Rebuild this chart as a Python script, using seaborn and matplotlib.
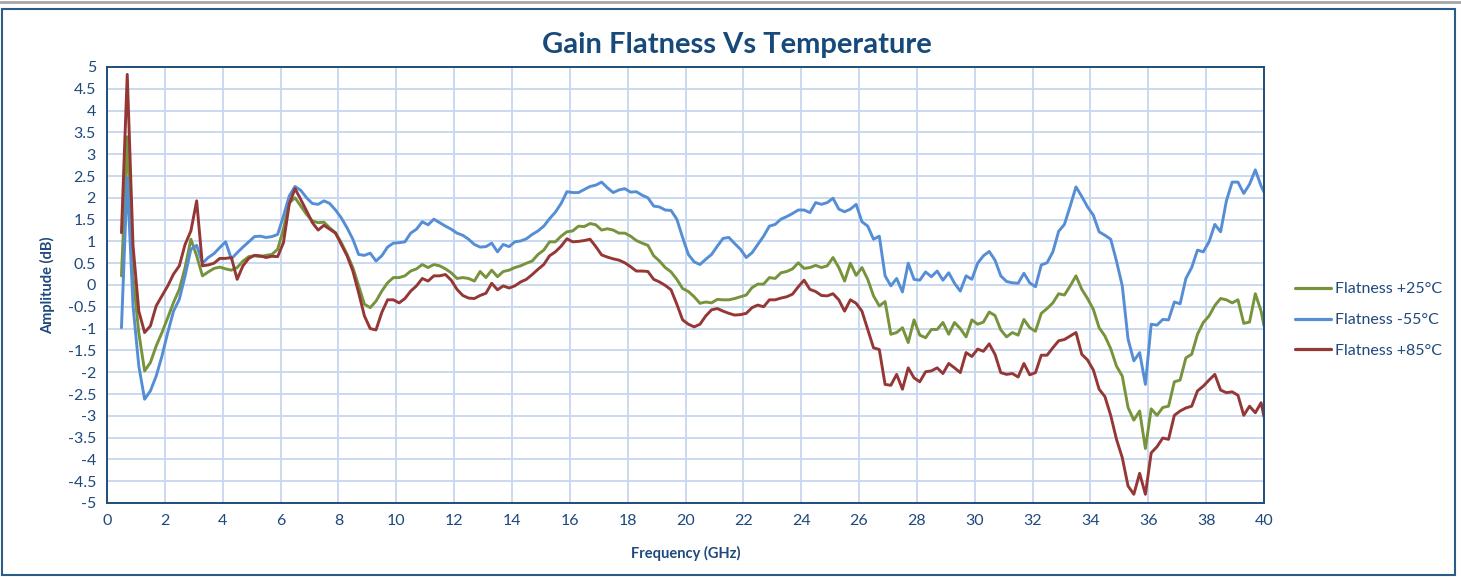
import numpy as np
import pandas as pd
import matplotlib
matplotlib.use("Agg")
import matplotlib.pyplot as plt
import seaborn as sns
from matplotlib.lines import Line2D
from matplotlib.patches import Rectangle

# Frequency sweep in GHz: 0.2 GHz steps from 0.5, plus the 40 GHz end point
freq_ghz = [round(0.5 + 0.2 * i, 1) for i in range(198)] + [40.0]

# Flatness +25°C (dB)
flat_p25 = [
    0.21, 3.4, 0.2, -1.1, -1.97, -1.78, -1.4, -1.09, -0.75, -0.4,
    -0.1, 0.4, 1.05, 0.67, 0.21, 0.3, 0.38, 0.41, 0.37, 0.34,
    0.4, 0.55, 0.65, 0.67, 0.65, 0.68, 0.7, 0.82, 1.28, 1.89,
    2.0, 1.81, 1.62, 1.47, 1.43, 1.44, 1.31, 1.2, 0.97, 0.7,
    0.4, -0.02, -0.44, -0.52, -0.37, -0.14, 0.05, 0.17, 0.17,
    0.21, 0.32, 0.37, 0.47, 0.4, 0.47, 0.44, 0.37, 0.28, 0.15,
    0.17, 0.15, 0.09, 0.31, 0.17, 0.34, 0.19, 0.31, 0.34, 0.4,
    0.44, 0.5, 0.55, 0.7, 0.8, 0.99, 0.99, 1.12, 1.22, 1.24,
    1.35, 1.34, 1.41, 1.38, 1.26, 1.29, 1.26, 1.19, 1.19, 1.12,
    1.02, 0.96, 0.91, 0.67, 0.55, 0.4, 0.3, 0.13, -0.08, -0.15,
    -0.27, -0.42, -0.39, -0.41, -0.33, -0.34, -0.34, -0.31, -0.27, -0.23,
    -0.06, 0.02, 0.02, 0.17, 0.15, 0.28, 0.31, 0.37, 0.51, 0.38,
    0.4, 0.45, 0.4, 0.44, 0.63, 0.4, 0.09, 0.5, 0.22, 0.4,
    0.13, -0.25, -0.48, -0.38, -1.13, -1.09, -0.98, -1.32, -0.8, -1.15,
    -1.21, -1.02, -1.02, -0.86, -1.13, -0.86, -1.0, -1.19, -0.8, -0.9,
    -0.85, -0.62, -0.7, -1.03, -1.19, -1.09, -1.15, -0.79, -0.98, -1.06,
    -0.65, -0.54, -0.41, -0.2, -0.23, -0.02, 0.21, -0.1, -0.31, -0.56,
    -0.98, -1.17, -1.46, -1.86, -2.09, -2.81, -3.1, -2.89, -3.75, -2.84,
    -2.99, -2.81, -2.78, -2.22, -2.18, -1.67, -1.59, -1.13, -0.86, -0.71,
    -0.47, -0.31, -0.34, -0.41, -0.34, -0.88, -0.85, -0.2, -0.6, -0.94,
]

# Flatness -55°C (dB)
flat_m55 = [
    -0.98, 2.46, -0.48, -1.86, -2.62, -2.43, -2.09, -1.63, -1.09, -0.6,
    -0.33, 0.21, 0.82, 0.91, 0.5, 0.63, 0.72, 0.86, 0.99, 0.6,
    0.74, 0.87, 0.99, 1.11, 1.12, 1.09, 1.11, 1.16, 1.58, 2.04,
    2.26, 2.17, 2.0, 1.87, 1.85, 1.93, 1.87, 1.72, 1.54, 1.31,
    1.05, 0.7, 0.68, 0.73, 0.55, 0.67, 0.87, 0.96, 0.97,
    0.99, 1.19, 1.28, 1.45, 1.38, 1.51, 1.43, 1.35, 1.28, 1.19,
    1.14, 1.05, 0.93, 0.87, 0.88, 0.96, 0.76, 0.93, 0.88, 0.99,
    1.01, 1.06, 1.16, 1.24, 1.35, 1.52, 1.67, 1.87, 2.14, 2.12,
    2.12, 2.19, 2.26, 2.29, 2.36, 2.23, 2.12, 2.18, 2.21, 2.13,
    2.14, 2.06, 2.0, 1.81, 1.79, 1.72, 1.71, 1.51, 1.09, 0.7,
    0.53, 0.47, 0.59, 0.7, 0.89, 1.07, 1.09, 0.95, 0.82, 0.63,
    0.74, 0.93, 1.12, 1.35, 1.39, 1.51, 1.57, 1.64, 1.72, 1.72,
    1.66, 1.89, 1.85, 1.89, 1.99, 1.74, 1.68, 1.74, 1.85, 1.45,
    1.35, 1.05, 1.12, 0.21, -0.02, 0.15, -0.16, 0.5, 0.13, 0.11,
    0.3, 0.19, 0.32, 0.11, 0.28, 0.04, -0.14, 0.21, 0.13, 0.5,
    0.67, 0.77, 0.57, 0.21, 0.08, 0.05, 0.04, 0.27, 0.05, -0.04,
    0.46, 0.51, 0.76, 1.23, 1.39, 1.81, 2.25, 2.03, 1.79, 1.6,
    1.22, 1.14, 1.05, 0.55, -0.02, -1.24, -1.74, -1.55, -2.28, -0.9,
    -0.92, -0.79, -0.8, -0.39, -0.43, 0.15, 0.4, 0.8, 0.76, 0.99,
    1.39, 1.22, 1.93, 2.36, 2.36, 2.1, 2.31, 2.64, 2.27, 2.13,
]

# Flatness +85°C (dB)
flat_p85 = [
    1.2, 4.83, 0.9, -0.6, -1.09, -0.94, -0.48, -0.25, -0.02, 0.25,
    0.44, 0.93, 1.24, 1.93, 0.44, 0.46, 0.5, 0.61, 0.61, 0.63,
    0.13, 0.44, 0.61, 0.68, 0.67, 0.63, 0.66, 0.65, 0.97, 1.85,
    2.21, 1.96, 1.7, 1.43, 1.26, 1.37, 1.28, 1.19, 0.93, 0.67,
    0.32, -0.18, -0.71, -1.0, -1.03, -0.63, -0.34, -0.34, -0.41,
    -0.31, -0.14, -0.02, 0.15, 0.09, 0.21, 0.21, 0.24, 0.11, -0.1,
    -0.24, -0.3, -0.31, -0.24, -0.19, 0.04, -0.11, -0.02, -0.07, -0.02,
    0.07, 0.13, 0.24, 0.36, 0.47, 0.67, 0.76, 0.89, 1.06, 0.99,
    1.0, 1.02, 1.05, 0.88, 0.69, 0.64, 0.6, 0.57, 0.51, 0.42,
    0.32, 0.32, 0.31, 0.13, 0.07, -0.01, -0.11, -0.44, -0.8, -0.9,
    -0.96, -0.9, -0.71, -0.57, -0.54, -0.6, -0.65, -0.69, -0.68, -0.65,
    -0.52, -0.46, -0.5, -0.34, -0.34, -0.3, -0.27, -0.21, -0.04, 0.11,
    -0.1, -0.15, -0.24, -0.25, -0.2, -0.34, -0.6, -0.34, -0.42, -0.6,
    -1.02, -1.44, -1.48, -2.28, -2.3, -2.05, -2.39, -1.9, -2.13, -2.22,
    -1.99, -1.97, -1.9, -2.03, -1.8, -1.9, -2.01, -1.55, -1.64, -1.47,
    -1.52, -1.35, -1.59, -2.01, -2.05, -2.03, -2.11, -1.8, -2.06, -2.01,
    -1.61, -1.61, -1.44, -1.28, -1.25, -1.17, -1.09, -1.59, -1.72, -1.95,
    -2.39, -2.56, -2.99, -3.54, -3.96, -4.61, -4.8, -4.32, -4.8, -3.85,
    -3.71, -3.51, -3.54, -2.99, -2.89, -2.82, -2.78, -2.43, -2.32, -2.18,
    -2.05, -2.41, -2.47, -2.45, -2.53, -2.99, -2.78, -2.93, -2.7, -3.02,
]

series_names = ["Flatness +25°C", "Flatness -55°C", "Flatness +85°C"]
series_colors = ["#77933C", "#558ED5", "#953735"]

x_ticks = list(range(0, 41, 2))
y_ticks = [5, 4.5, 4, 3.5, 3, 2.5, 2, 1.5, 1, 0.5, 0,
           -0.5, -1, -1.5, -2, -2.5, -3, -3.5, -4, -4.5, -5]

# long-form table for seaborn
df = pd.DataFrame({
    "freq": freq_ghz * 3,
    "amp": flat_p25 + flat_m55 + flat_p85,
    "series": [series_names[0]] * len(freq_ghz)
              + [series_names[1]] * len(freq_ghz)
              + [series_names[2]] * len(freq_ghz),
})

sns.set_style("white")
plt.rcParams["font.family"] = ["Lato", "DejaVu Sans"]

navy = "#1F497D"
grid_col = "#C6D7EE"

fig = plt.figure(figsize=(14.61, 5.77), dpi=100)
ax = fig.add_axes([107 / 1461, 1 - 503 / 577, (1264 - 107) / 1461, (503 - 67) / 577])

sns.lineplot(data=df, x="freq", y="amp", hue="series", hue_order=series_names,
             palette=series_colors, linewidth=2.1, estimator=None, sort=False,
             ax=ax, legend=False)

ax.set_xlim(0, 40)
ax.set_ylim(-5, 5)
ax.set_xticks(x_ticks)
ax.set_xticklabels([str(t) for t in x_ticks])
ax.set_yticks(y_ticks)
ax.set_yticklabels([f"{t:g}" for t in y_ticks])
ax.grid(True, color=grid_col, linewidth=1.3)
ax.set_axisbelow(True)
ax.tick_params(axis="both", length=0, labelsize=11.5, labelcolor=navy, pad=8)
for s in ax.spines.values():
    s.set_color("#1F4E79")
    s.set_linewidth(1.4)

ax.set_xlabel("Frequency (GHz)", fontsize=10.5, fontweight="bold", color=navy, labelpad=13)
ax.set_ylabel("Amplitude (dB)", fontsize=10.5, fontweight="bold", color=navy, labelpad=9)

fig.text(737 / 1461, 1 - 45 / 577, "Gain Flatness Vs Temperature", ha="center", va="center",
         fontsize=21, fontweight="bold", color="#17497A")

handles = [Line2D([0], [0], color=c, linewidth=2.3) for c in series_colors]
leg = fig.legend(handles, series_names, loc="center left",
                 bbox_to_anchor=(1281 / 1461, 1 - 320 / 577), frameon=False,
                 fontsize=11.5, handlelength=2.2, handletextpad=0.3, labelspacing=1.05)
for t in leg.get_texts():
    t.set_color(navy)

# outer chart frame
fig.patches.append(Rectangle((2 / 1461, 2 / 577), 1453 / 1461, 1 - 11 / 577,
                             transform=fig.transFigure, fill=False,
                             edgecolor="#2C5D88", linewidth=1.5))
fig.lines.append(Line2D([0, 1], [1 - 2 / 577, 1 - 2 / 577], transform=fig.transFigure,
                        color="#A6A6A6", linewidth=2))

fig.savefig("out.png", dpi=100)
